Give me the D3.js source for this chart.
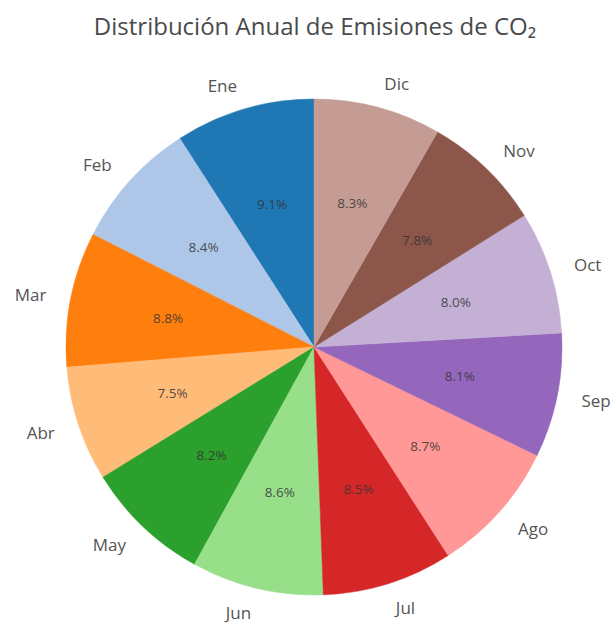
<!DOCTYPE html>
<html lang="es">
<head>
  <meta charset="UTF-8" />
  <title>Distribución Anual de Emisiones de CO₂</title>
  <style>
    body { margin: 0; background: #fff; }
    text { font-family: "Open Sans", "Noto Sans", sans-serif; }
    .title { font-size: 24px; fill: #4a4a4a; }
    .label { font-size: 17px; fill: #555; }
    .pct { font-size: 13.5px; fill: #333; fill-opacity: 0.85; }
  </style>
</head>
<body>
  <script src="https://cdn.jsdelivr.net/npm/d3@7"></script>
  <script>
    var months = ["Ene", "Feb", "Mar", "Abr", "May", "Jun", "Jul", "Ago", "Sep", "Oct", "Nov", "Dic"];
    var shares = [9.1, 8.4, 8.8, 7.5, 8.2, 8.6, 8.5, 8.7, 8.1, 8.0, 7.8, 8.3];
    var colors = ["#1f77b4", "#aec7e8", "#ff7f0e", "#ffbb78", "#2ca02c", "#98df8a",
                  "#d62728", "#ff9896", "#9467bd", "#c5b0d5", "#8c564b", "#c49c94"];

    var w = 616, h = 626;
    var cx = 314, cy = 347, r = 248;

    var data = months.map(function(m, i) {
      return { month: m, value: shares[i] };
    });

    var color = d3.scaleOrdinal().domain(months).range(colors);

    var svg = d3.select("body").append("svg")
      .attr("width", w)
      .attr("height", h);

    svg.append("text")
      .attr("class", "title")
      .attr("x", 315)
      .attr("y", 35)
      .attr("text-anchor", "middle")
      .text("Distribución Anual de Emisiones de CO₂");

    // counter-clockwise from the top, like matplotlib startangle=90
    var pie = d3.pie()
      .sort(null)
      .value(function(d) { return d.value; })
      .startAngle(0)
      .endAngle(-2 * Math.PI);

    var arcs = pie(data);
    var arc = d3.arc().innerRadius(0).outerRadius(r);

    var g = svg.append("g")
      .attr("transform", "translate(" + cx + "," + cy + ")");

    g.selectAll("path")
      .data(arcs)
      .enter()
      .append("path")
      .attr("d", arc)
      .attr("fill", function(d) { return color(d.data.month); })
      .attr("stroke", function(d) { return color(d.data.month); })
      .attr("stroke-width", 0.5);

    var total = d3.sum(shares);

    function midPoint(d, k) {
      var a = (d.startAngle + d.endAngle) / 2;
      return [k * r * Math.sin(a), -k * r * Math.cos(a)];
    }

    g.selectAll(".pct")
      .data(arcs)
      .enter()
      .append("text")
      .attr("class", "pct")
      .attr("x", function(d) { return midPoint(d, 0.6)[0]; })
      .attr("y", function(d) { return midPoint(d, 0.6)[1]; })
      .attr("text-anchor", "middle")
      .attr("dominant-baseline", "central")
      .text(function(d) { return (d.data.value / total * 100).toFixed(1) + "%"; });

    g.selectAll(".label")
      .data(arcs)
      .enter()
      .append("text")
      .attr("class", "label")
      .attr("x", function(d) { return midPoint(d, 1.1)[0]; })
      .attr("y", function(d) { return midPoint(d, 1.1)[1]; })
      .attr("text-anchor", function(d) { return midPoint(d, 1.1)[0] < 0 ? "end" : "start"; })
      .attr("dominant-baseline", "central")
      .text(function(d) { return d.data.month; });
  </script>
</body>
</html>
